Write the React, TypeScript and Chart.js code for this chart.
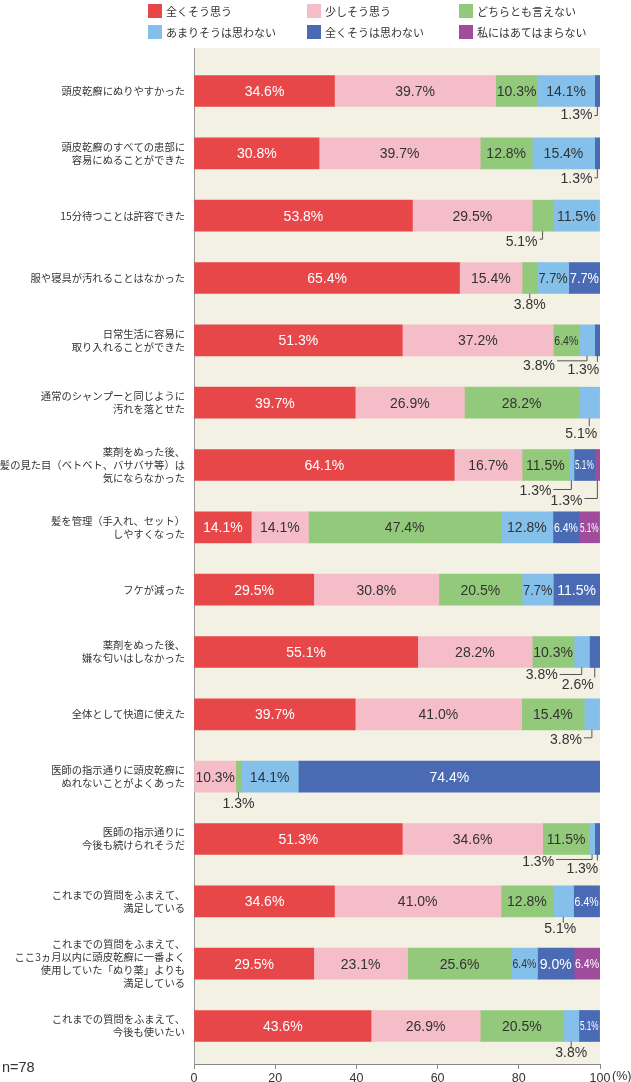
import React, { useEffect, useRef } from 'react';
import { Chart, registerables } from 'chart.js';

Chart.register(...registerables);

// ---------- data ----------
const categories: string[][] = [
  ['頭皮乾癬にぬりやすかった'],
  ['頭皮乾癬のすべての患部に', '容易にぬることができた'],
  ['15分待つことは許容できた'],
  ['服や寝具が汚れることはなかった'],
  ['日常生活に容易に', '取り入れることができた'],
  ['通常のシャンプーと同じように', '汚れを落とせた'],
  ['薬剤をぬった後、', '髪の見た目（ベトベト、バサバサ等）は', '気にならなかった'],
  ['髪を管理（手入れ、セット）', 'しやすくなった'],
  ['フケが減った'],
  ['薬剤をぬった後、', '嫌な匂いはしなかった'],
  ['全体として快適に使えた'],
  ['医師の指示通りに頭皮乾癬に', 'ぬれないことがよくあった'],
  ['医師の指示通りに', '今後も続けられそうだ'],
  ['これまでの質問をふまえて、', '満足している'],
  ['これまでの質問をふまえて、', 'ここ3ヵ月以内に頭皮乾癬に一番よく', '使用していた「ぬり薬」よりも', '満足している'],
  ['これまでの質問をふまえて、', '今後も使いたい'],
];

const seriesNames = ['全くそう思う', '少しそう思う', 'どちらとも言えない', 'あまりそうは思わない', '全くそうは思わない', '私にはあてはまらない'];

const stronglyAgree = [34.6, 30.8, 53.8, 65.4, 51.3, 39.7, 64.1, 14.1, 29.5, 55.1, 39.7, 0, 51.3, 34.6, 29.5, 43.6];
const somewhatAgree = [39.7, 39.7, 29.5, 15.4, 37.2, 26.9, 16.7, 14.1, 30.8, 28.2, 41.0, 10.3, 34.6, 41.0, 23.1, 26.9];
const neutral = [10.3, 12.8, 5.1, 3.8, 6.4, 28.2, 11.5, 47.4, 20.5, 10.3, 15.4, 1.3, 11.5, 12.8, 25.6, 20.5];
const somewhatDisagree = [14.1, 15.4, 11.5, 7.7, 3.8, 5.1, 1.3, 12.8, 7.7, 3.8, 3.8, 14.1, 1.3, 5.1, 6.4, 3.8];
const stronglyDisagree = [1.3, 1.3, 0, 7.7, 1.3, 0, 5.1, 6.4, 11.5, 2.6, 0, 74.4, 1.3, 6.4, 9.0, 5.1];
const notApplicable = [0, 0, 0, 0, 0, 0, 1.3, 5.1, 0, 0, 0, 0, 0, 0, 6.4, 0];

const seriesValues = [stronglyAgree, somewhatAgree, neutral, somewhatDisagree, stronglyDisagree, notApplicable];

const xTicks = [0, 20, 40, 60, 80, 100];

// ---------- styling ----------
const colors = ['#E8474A', '#F5BDC8', '#93C97A', '#84C0EA', '#4A6AB4', '#A04C9C'];
const textColors = ['#ffffff', '#333333', '#333333', '#333333', '#ffffff', '#ffffff'];
const BG = '#F3F0E4';
const NUMFONT = '"Liberation Sans", "Noto Sans CJK JP", sans-serif';
const JPFONT = '"Noto Sans CJK JP", sans-serif';

// callout labels for narrow segments (row, series, offsets in px)
const callouts = [
  { row: 0, s: 4, dx: -5, dy: 9, drop: 9, hook: true },
  { row: 1, s: 4, dx: -5, dy: 10, drop: 9, hook: true },
  { row: 2, s: 2, dx: -5, dy: 11, drop: 8, hook: true },
  { row: 3, s: 2, dx: 0, dy: 12, drop: 5, hook: false },
  { row: 4, s: 3, dx: -32, dy: 10, drop: 5, hook: true },
  { row: 4, s: 4, dx: -14, dy: 14, drop: 6, hook: false },
  { row: 5, s: 3, dx: -8, dy: 16, drop: 8, hook: false },
  { row: 6, s: 3, dx: -20, dy: 11, drop: 9, hook: true },
  { row: 6, s: 5, dx: -15, dy: 21, drop: 18, hook: true },
  { row: 9, s: 3, dx: -24, dy: 8, drop: 7, hook: true },
  { row: 9, s: 4, dx: -17, dy: 18, drop: 10, hook: false },
  { row: 10, s: 3, dx: -10, dy: 10, drop: 8, hook: true },
  { row: 11, s: 2, dx: 0, dy: 12, drop: 6, hook: false },
  { row: 12, s: 3, dx: -38, dy: 8, drop: 5, hook: true },
  { row: 12, s: 4, dx: -15, dy: 15, drop: 6, hook: false },
  { row: 13, s: 3, dx: -3, dy: 12, drop: 6, hook: false },
  { row: 15, s: 3, dx: 0, dy: 12, drop: 7, hook: false },
];

const segPlugin = {
  id: 'segPlugin',
  beforeDraw(chart: any) {
    const { ctx, chartArea } = chart;
    ctx.save();
    ctx.fillStyle = BG;
    ctx.fillRect(chartArea.left, chartArea.top, chartArea.right - chartArea.left, chartArea.bottom - chartArea.top);
    ctx.restore();
  },
  afterDatasetsDraw(chart: any) {
    const ctx = chart.ctx as CanvasRenderingContext2D;
    ctx.save();
    ctx.textBaseline = 'middle';
    seriesValues.forEach((vals, si) => {
      const meta = chart.getDatasetMeta(si);
      meta.data.forEach((el: any, ri: number) => {
        const v = vals[ri];
        if (!v) return;
        const { x, base, y, height } = el.getProps(['x', 'base', 'y', 'height'], true);
        const x0 = Math.min(x, base);
        const x1 = Math.max(x, base);
        const cx = (x0 + x1) / 2;
        const text = v.toFixed(1) + '%';
        const co = callouts.find((c) => c.row === ri && c.s === si);
        if (co) {
          const b = y + height / 2;
          ctx.font = `14px ${NUMFONT}`;
          ctx.fillStyle = '#333';
          ctx.strokeStyle = '#555';
          ctx.lineWidth = 1;
          ctx.beginPath();
          ctx.moveTo(cx, b);
          ctx.lineTo(cx, b + co.drop);
          if (co.hook) {
            ctx.lineTo(cx + co.dx + 2, b + co.drop);
            ctx.stroke();
            ctx.textAlign = 'right';
            ctx.fillText(text, cx + co.dx, b + co.dy);
          } else {
            ctx.stroke();
            ctx.textAlign = 'center';
            ctx.fillText(text, cx + co.dx, b + co.dy);
          }
        } else {
          let size = 14;
          ctx.font = `${size}px ${NUMFONT}`;
          let w = ctx.measureText(text).width;
          const avail = x1 - x0 - 2;
          if (avail / w < 0.8) {
            size = 12;
            ctx.font = `${size}px ${NUMFONT}`;
            w = ctx.measureText(text).width;
          }
          const sx = w > avail ? avail / w : 1;
          ctx.save();
          ctx.translate(cx, y + 1);
          ctx.scale(sx, 1);
          ctx.textAlign = 'center';
          ctx.fillStyle = textColors[si];
          ctx.fillText(text, 0, 0);
          ctx.restore();
        }
      });
    });
    ctx.restore();
  },
  afterDraw(chart: any) {
    const ctx = chart.ctx as CanvasRenderingContext2D;
    const { chartArea } = chart;
    ctx.save();
    ctx.font = `12.5px ${NUMFONT}`;
    ctx.fillStyle = '#333';
    ctx.textAlign = 'left';
    ctx.textBaseline = 'middle';
    ctx.fillText('(%)', chartArea.right + 12, chartArea.bottom + 13);
    ctx.restore();
  },
};

export default function App() {
  const canvasRef = useRef<HTMLCanvasElement | null>(null);

  useEffect(() => {
    const canvas = canvasRef.current;
    if (!canvas) return;
    const datasets = seriesValues.map((vals, si) => ({
      label: seriesNames[si],
      data: vals.map((v, i) => ({ x: v === 0 ? null : v, y: i })),
      backgroundColor: colors[si],
      borderWidth: 0,
      barThickness: 31,
      grouped: false,
    }));
    const chart = new Chart(canvas, {
      type: 'bar',
      data: { datasets: datasets as any },
      options: {
        indexAxis: 'y',
        responsive: false,
        animation: false,
        devicePixelRatio: 1,
        layout: { padding: { top: 48, right: 31, bottom: 0, left: 0 } },
        plugins: {
          legend: { display: false },
          tooltip: { enabled: false },
        },
        scales: {
          x: {
            type: 'linear',
            stacked: true,
            min: 0,
            max: 100,
            offset: false,
            afterFit: (scale: any) => {
              scale.height = 18;
            },
            afterBuildTicks: (scale: any) => {
              scale.ticks = xTicks.map((v) => ({ value: v }));
            },
            ticks: {
              font: { size: 12.5, family: NUMFONT },
              color: '#333',
              padding: 2,
              maxRotation: 0,
              autoSkip: false,
            },
            grid: { drawOnChartArea: false, drawTicks: true, tickLength: 5, color: '#888', offset: false },
            border: { display: true, color: '#888' },
          },
          y: {
            type: 'linear',
            reverse: true,
            offset: false,
            min: -0.69,
            max: 15.61,
            afterFit: (scale: any) => {
              scale.width = 194;
            },
            afterBuildTicks: (scale: any) => {
              scale.ticks = categories.map((_, i) => ({ value: i }));
            },
            ticks: {
              autoSkip: false,
              padding: 9,
              color: '#333',
              font: { size: 10.3, family: JPFONT, lineHeight: 1.27 },
              callback: (value: any) => {
                const i = Math.round(Number(value));
                return categories[i] ?? '';
              },
            },
            grid: { display: true, drawOnChartArea: false, drawTicks: false, color: '#999', offset: false },
            border: { display: true, color: '#999' },
          },
        },
      },
      plugins: [segPlugin],
    });
    return () => chart.destroy();
  }, []);

  const legendPos = [
    { x: 148, y: 4 },
    { x: 307, y: 4 },
    { x: 459, y: 4 },
    { x: 148, y: 25 },
    { x: 307, y: 25 },
    { x: 459, y: 25 },
  ];

  return (
    <div style={{ position: 'absolute', left: 0, top: 0, width: 631, height: 1082, background: '#fff', overflow: 'hidden' }}>
      <canvas ref={canvasRef} width={631} height={1082} style={{ position: 'absolute', left: 0, top: 0, width: 631, height: 1082 }} />
      {seriesNames.map((name, i) => (
        <div
          key={name}
          style={{
            position: 'absolute',
            left: legendPos[i].x,
            top: legendPos[i].y,
            height: 14,
            display: 'flex',
            alignItems: 'center',
            fontFamily: JPFONT,
            fontSize: 11,
            color: '#333',
            whiteSpace: 'nowrap',
          }}
        >
          <span style={{ display: 'inline-block', width: 14, height: 14, background: colors[i], marginRight: 4 }} />
          <span>{name}</span>
        </div>
      ))}
      <div
        style={{
          position: 'absolute',
          left: 2,
          top: 1058,
          fontFamily: NUMFONT,
          fontSize: 14.5,
          color: '#333',
          lineHeight: '18px',
        }}
      >
        n=78
      </div>
    </div>
  );
}
